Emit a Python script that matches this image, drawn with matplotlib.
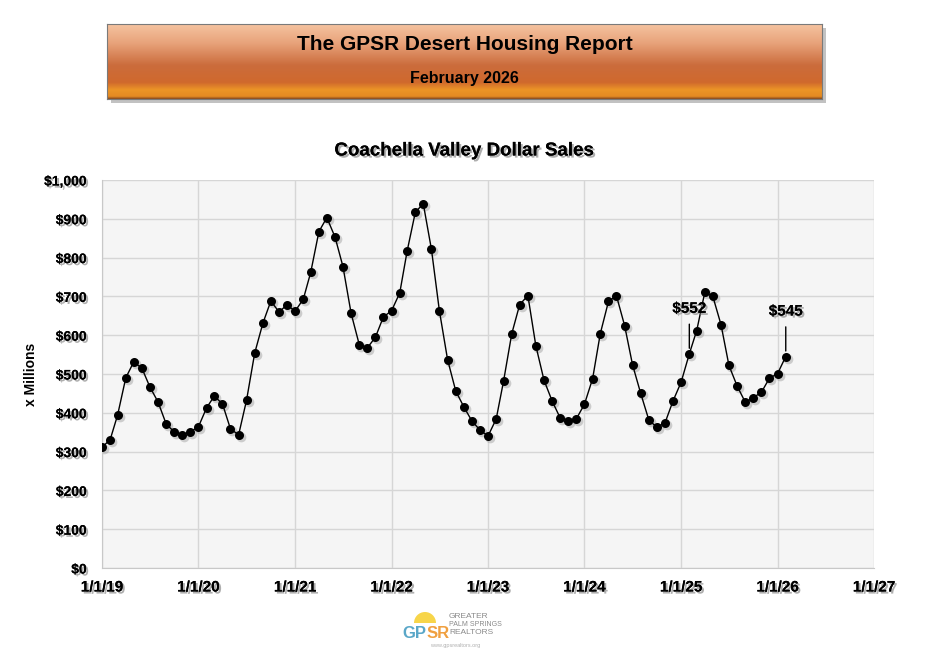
import numpy as np
import pandas as pd
import matplotlib
matplotlib.use('Agg')
import matplotlib.pyplot as plt
import matplotlib.patheffects as pe
from matplotlib.colors import LinearSegmentedColormap
from matplotlib.patches import Rectangle, Wedge
from matplotlib.transforms import offset_copy

plt.rcParams['font.family'] = ['Liberation Sans', 'DejaVu Sans']

# monthly dollar sales, x millions (Jan 2019 - Feb 2026)
sales = [311, 331, 394, 490, 531, 515, 467, 428, 371, 351, 343, 351,
         364, 413, 443, 423, 359, 343, 432, 554, 631, 688, 660, 678,
         662, 693, 762, 867, 903, 853, 777, 656, 575, 567, 595, 647,
         663, 709, 817, 917, 939, 821, 663, 537, 456, 416, 379, 356,
         340, 384, 482, 604, 679, 702, 573, 484, 430, 387, 379, 384,
         422, 488, 604, 687, 702, 625, 524, 450, 381, 363, 374, 430,
         479, 552, 612, 712, 700, 627, 522, 469, 427, 439, 453, 489,
         501, 545]
months = pd.date_range('2019-01-01', periods=len(sales), freq='MS')

labeled_months = ['2025-02-01', '2026-02-01']
year_ticks = pd.date_range('2019-01-01', '2027-01-01', freq='YS')
y_ticks = list(range(0, 1001, 100))

title = 'The GPSR Desert Housing Report'
subtitle = 'February 2026'
chart_title = 'Coachella Valley Dollar Sales'

fig = plt.figure(figsize=(9.32, 6.56), dpi=100)
W, H = 932, 656

shadow = [pe.withSimplePatchShadow(offset=(1.5, -1.5), shadow_rgbFace='#9a9a9a', alpha=0.8), pe.Normal()]

# header banner
hx0, hx1, hy0, hy1 = 107, 822, 24, 99
sax = fig.add_axes([(hx0 + 4) / W, 1 - (hy1 + 4) / H, (hx1 - hx0) / W, (hy1 - hy0) / H],
                   zorder=0)
sax.axis('off')
sax.add_patch(Rectangle((0, 0), 1, 1, transform=sax.transAxes,
                        facecolor='#9a9a9a', alpha=0.6, edgecolor='none'))
hax = fig.add_axes([hx0 / W, 1 - hy1 / H, (hx1 - hx0) / W, (hy1 - hy0) / H], zorder=1)
cmap = LinearSegmentedColormap.from_list('band', [
    (0.0, '#f5c3a0'), (0.25, '#e8a37b'), (0.55, '#cb6c3c'),
    (0.78, '#d0692d'), (0.88, '#ec9526'), (0.97, '#e48a22'), (1.0, '#8a4a1c')])
hax.imshow(np.linspace(0, 1, 200).reshape(-1, 1), aspect='auto', cmap=cmap,
           extent=[0, 1, 0, 1], origin='upper')
hax.set_xticks([])
hax.set_yticks([])
for s in hax.spines.values():
    s.set_color('#7a7a7a')
    s.set_linewidth(0.8)
hax.text(0.5, 0.73, title, ha='center', va='center', fontsize=15,
         fontweight='bold', transform=hax.transAxes)
hax.text(0.5, 0.28, subtitle, ha='center', va='center', fontsize=11.5,
         fontweight='bold', transform=hax.transAxes)

# main chart
ax = fig.add_axes([102 / W, 1 - 568 / H, (874 - 102) / W, (568 - 180) / H])
ax.set_facecolor('#f5f5f5')
ax.grid(True, color='#d6d6d6', linewidth=1)
ax.set_axisbelow(True)

sh = offset_copy(ax.transData, fig=fig, x=2, y=-2, units='dots')
ax.plot(months, sales, 'o', color='#9a9a9a', alpha=0.45, markersize=7,
        markeredgewidth=0, transform=sh, zorder=2)
ax.plot(months, sales, '-', color='black', linewidth=1, zorder=3)
ax.plot(months, sales, 'o', color='black', markersize=6.5, markeredgewidth=0,
        zorder=4)

for m in labeled_months:
    d = pd.Timestamp(m)
    v = sales[list(months).index(d)]
    ax.annotate('$' + str(v), xy=(d, v), xytext=(0, 45),
                textcoords='offset pixels', ha='center', va='center',
                fontsize=11, fontweight='bold', path_effects=shadow,
                arrowprops=dict(arrowstyle='-', color='black', lw=1,
                                shrinkA=4, shrinkB=4), zorder=5)

ax.set_xlim(year_ticks[0], year_ticks[-1])
ax.set_ylim(0, 1000)
ax.set_xticks(year_ticks)
ax.set_xticklabels([d.strftime('%-m/%-d/%y') for d in year_ticks],
                   fontsize=11, fontweight='bold')
ax.set_yticks(y_ticks)
ax.set_yticklabels(['${:,}'.format(v) for v in y_ticks], fontsize=10,
                   fontweight='bold')
for lbl in ax.get_xticklabels() + ax.get_yticklabels():
    lbl.set_path_effects(shadow)
ax.tick_params(axis='y', length=0, pad=11)
ax.tick_params(axis='x', length=0, pad=9)
for side in ['top', 'right']:
    ax.spines[side].set_visible(False)
for side in ['left', 'bottom']:
    ax.spines[side].set_color('#c8c8c8')

ax.set_ylabel('x Millions', fontsize=10, fontweight='bold')
ax.yaxis.set_label_coords((38 - 102) / 772, 0.5)
fig.text(464 / W, 1 - 151 / H, chart_title, ha='center', va='center',
         fontsize=13.5, fontweight='bold', path_effects=shadow)

# logo
fig.patches.append(Wedge((425, H - 623), 11, 0, 180, transform=None,
                         facecolor='#f7d54a', edgecolor='none'))
fig.text(402 / W, 1 - 634 / H, 'GP', color='#5aa7c8', fontsize=12,
         fontweight='bold', va='center')
fig.text(427 / W, 1 - 634 / H, 'SR', color='#f0a040', fontsize=12,
         fontweight='bold', va='center')
fig.text(449 / W, 1 - 617 / H, 'GREATER', color='#8a8a8a', fontsize=6, va='center')
fig.text(449 / W, 1 - 625 / H, 'PALM SPRINGS', color='#8a8a8a', fontsize=5, va='center')
fig.text(449 / W, 1 - 633 / H, 'REALTORS', color='#8a8a8a', fontsize=6, va='center')
fig.text(455 / W, 1 - 645 / H, 'www.gpsrealtors.org', color='#b0b0b0', fontsize=4,
         ha='center', va='center')

fig.savefig('out.png', dpi=100)
